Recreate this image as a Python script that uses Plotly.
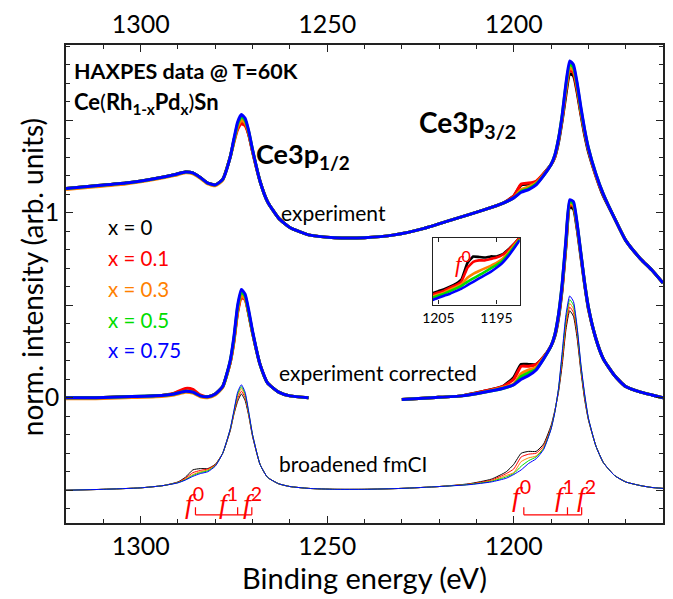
import plotly.graph_objects as go

# ---------------- data ----------------
series_labels = ["x = 0", "x = 0.1", "x = 0.3", "x = 0.5", "x = 0.75"]
colors = ["#000000", "#ff0000", "#ff8000", "#00dd00", "#0000ff"]

# experiment (raw), offset ~ +1
E_exp = [1320, 1312, 1304, 1296, 1291, 1288, 1286, 1284, 1282, 1280, 1278, 1276, 1275, 1274, 1273,
         1272, 1271, 1270, 1268, 1266, 1263, 1260, 1255, 1248, 1240, 1232, 1224, 1216, 1208, 1203,
         1200, 1198, 1196, 1194, 1192, 1190, 1189, 1188, 1187, 1186, 1185, 1184, 1183, 1182, 1181,
         1180, 1178, 1176, 1173, 1170, 1166, 1163, 1160]
exp_x0 = [1.13, 1.145, 1.16, 1.185, 1.205, 1.22, 1.215, 1.19, 1.16, 1.15, 1.18, 1.30, 1.39, 1.46, 1.50,
          1.48, 1.42, 1.33, 1.17, 1.06, 0.97, 0.92, 0.88, 0.865, 0.865, 0.88, 0.915, 0.965, 1.015, 1.05,
          1.09, 1.15, 1.155, 1.165, 1.21, 1.26, 1.30, 1.38, 1.50, 1.64, 1.75, 1.74, 1.65, 1.53, 1.42,
          1.33, 1.20, 1.09, 0.97, 0.85, 0.75, 0.69, 0.62]
exp_x01 = [1.13, 1.145, 1.16, 1.185, 1.205, 1.22, 1.215, 1.19, 1.16, 1.15, 1.18, 1.30, 1.38, 1.45, 1.48,
           1.47, 1.42, 1.33, 1.17, 1.06, 0.97, 0.92, 0.88, 0.865, 0.865, 0.88, 0.915, 0.965, 1.015, 1.05,
           1.09, 1.155, 1.16, 1.17, 1.21, 1.26, 1.30, 1.39, 1.51, 1.66, 1.77, 1.755, 1.66, 1.54, 1.43,
           1.34, 1.20, 1.095, 0.97, 0.85, 0.75, 0.69, 0.62]
exp_x03 = [1.125, 1.14, 1.155, 1.18, 1.20, 1.215, 1.21, 1.185, 1.155, 1.145, 1.175, 1.30, 1.385, 1.465, 1.50,
           1.485, 1.43, 1.335, 1.17, 1.06, 0.97, 0.92, 0.88, 0.865, 0.865, 0.88, 0.915, 0.965, 1.015, 1.05,
           1.08, 1.125, 1.14, 1.16, 1.205, 1.26, 1.305, 1.395, 1.52, 1.67, 1.78, 1.77, 1.68, 1.55, 1.44,
           1.345, 1.205, 1.10, 0.97, 0.85, 0.75, 0.69, 0.62]
exp_x05 = [1.13, 1.145, 1.16, 1.185, 1.205, 1.22, 1.215, 1.19, 1.16, 1.15, 1.18, 1.30, 1.39, 1.48, 1.52,
           1.50, 1.435, 1.34, 1.17, 1.06, 0.97, 0.92, 0.88, 0.865, 0.865, 0.88, 0.915, 0.965, 1.015, 1.05,
           1.08, 1.115, 1.13, 1.155, 1.20, 1.26, 1.31, 1.40, 1.53, 1.69, 1.80, 1.785, 1.69, 1.56, 1.445,
           1.35, 1.21, 1.10, 0.97, 0.85, 0.75, 0.69, 0.62]
exp_x075 = [1.13, 1.145, 1.16, 1.185, 1.205, 1.22, 1.215, 1.19, 1.16, 1.15, 1.18, 1.30, 1.40, 1.49, 1.53,
            1.51, 1.44, 1.34, 1.17, 1.06, 0.97, 0.92, 0.88, 0.865, 0.865, 0.88, 0.915, 0.965, 1.015, 1.05,
            1.08, 1.11, 1.125, 1.15, 1.20, 1.26, 1.31, 1.40, 1.53, 1.70, 1.82, 1.80, 1.70, 1.57, 1.45,
            1.35, 1.21, 1.10, 0.97, 0.85, 0.75, 0.69, 0.62]

# experiment corrected, offset 0 (gap between the two core levels)
E_cor = [1320, 1312, 1304, 1296, 1291, 1288, 1286, 1284, 1282, 1280, 1278, 1276, 1275, 1274, 1273,
         1272, 1271, 1270, 1268, 1266, 1263, 1260, 1255, None,
         1230, 1222, 1214, 1208, 1203, 1200, 1198, 1196, 1194, 1192, 1190, 1189, 1188, 1187, 1186,
         1185, 1184, 1183, 1182, 1181, 1180, 1178, 1176, 1173, 1170, 1166, 1163, 1160]
cor_x0 = [0.0, 0.0, 0.005, 0.01, 0.02, 0.035, 0.03, 0.01, 0.005, 0.02, 0.06, 0.19, 0.31, 0.47, 0.55,
          0.54, 0.45, 0.35, 0.18, 0.08, 0.03, 0.01, 0.0, None,
          -0.01, 0.0, 0.01, 0.035, 0.06, 0.11, 0.18, 0.18, 0.18, 0.22, 0.28, 0.33, 0.43, 0.59, 0.82,
          1.03, 1.02, 0.91, 0.76, 0.61, 0.48, 0.32, 0.21, 0.12, 0.06, 0.03, 0.015, 0.0]
cor_x01 = [0.0, 0.0, 0.005, 0.01, 0.025, 0.05, 0.045, 0.015, 0.005, 0.02, 0.06, 0.19, 0.30, 0.46, 0.54,
           0.53, 0.45, 0.35, 0.18, 0.08, 0.03, 0.01, 0.0, None,
           -0.01, 0.0, 0.01, 0.035, 0.06, 0.10, 0.17, 0.17, 0.18, 0.22, 0.28, 0.335, 0.44, 0.60, 0.83,
           1.04, 1.035, 0.92, 0.77, 0.615, 0.485, 0.32, 0.21, 0.12, 0.06, 0.03, 0.015, 0.0]
cor_x03 = [-0.005, -0.005, 0.0, 0.005, 0.015, 0.03, 0.025, 0.005, 0.0, 0.015, 0.055, 0.19, 0.31, 0.47, 0.55,
           0.535, 0.455, 0.35, 0.18, 0.08, 0.03, 0.01, 0.0, None,
           -0.01, 0.0, 0.01, 0.03, 0.055, 0.075, 0.13, 0.15, 0.165, 0.215, 0.28, 0.34, 0.445, 0.61, 0.84,
           1.05, 1.04, 0.93, 0.775, 0.62, 0.49, 0.32, 0.21, 0.12, 0.06, 0.03, 0.015, 0.0]
cor_x05 = [0.0, 0.0, 0.005, 0.01, 0.02, 0.035, 0.03, 0.01, 0.005, 0.02, 0.06, 0.20, 0.32, 0.49, 0.57,
           0.55, 0.46, 0.355, 0.18, 0.08, 0.03, 0.01, 0.0, None,
           -0.01, 0.0, 0.01, 0.03, 0.05, 0.07, 0.115, 0.135, 0.155, 0.21, 0.28, 0.34, 0.45, 0.62, 0.85,
           1.06, 1.05, 0.935, 0.78, 0.62, 0.49, 0.32, 0.21, 0.12, 0.06, 0.03, 0.015, 0.0]
cor_x075 = [0.0, 0.0, 0.005, 0.01, 0.02, 0.035, 0.03, 0.01, 0.005, 0.02, 0.06, 0.20, 0.33, 0.50, 0.585,
            0.56, 0.47, 0.36, 0.18, 0.08, 0.03, 0.01, 0.0, None,
            -0.01, 0.0, 0.01, 0.03, 0.05, 0.07, 0.10, 0.12, 0.15, 0.21, 0.28, 0.34, 0.45, 0.62, 0.86,
            1.07, 1.06, 0.94, 0.78, 0.62, 0.49, 0.32, 0.21, 0.12, 0.06, 0.03, 0.015, 0.0]

# broadened fmCI calculation, offset -0.5
E_th = [1320, 1310, 1300, 1294, 1290, 1288, 1286, 1284, 1282, 1280, 1278, 1276, 1275, 1274, 1273,
        1272, 1271, 1270, 1268, 1266, 1263, 1260, 1255, 1248, 1240, 1230, 1220, 1212, 1206, 1202,
        1200, 1198, 1196, 1194, 1192, 1190, 1189, 1188, 1187, 1186, 1185, 1184, 1183, 1182, 1181,
        1180, 1178, 1176, 1173, 1170, 1166, 1163, 1160]
th_x0 = [-0.50, -0.495, -0.487, -0.475, -0.455, -0.43, -0.39, -0.383, -0.383, -0.36, -0.30, -0.18, -0.09, -0.02, 0.02,
         -0.015, -0.10, -0.21, -0.36, -0.43, -0.465, -0.48, -0.49, -0.495, -0.495, -0.49, -0.48, -0.465, -0.44, -0.40,
         -0.36, -0.30, -0.29, -0.29, -0.25, -0.15, -0.07, 0.03, 0.18, 0.37, 0.47, 0.44, 0.32, 0.14, -0.01,
         -0.12, -0.26, -0.35, -0.42, -0.455, -0.475, -0.485, -0.49]
th_x01 = [-0.50, -0.495, -0.487, -0.475, -0.457, -0.435, -0.405, -0.393, -0.385, -0.363, -0.30, -0.175, -0.085, -0.005, 0.035,
          0.0, -0.095, -0.205, -0.36, -0.43, -0.465, -0.48, -0.49, -0.495, -0.495, -0.49, -0.48, -0.467, -0.445, -0.41,
          -0.385, -0.32, -0.305, -0.30, -0.26, -0.16, -0.075, 0.04, 0.20, 0.39, 0.49, 0.46, 0.34, 0.155, 0.0,
          -0.115, -0.26, -0.35, -0.42, -0.455, -0.475, -0.485, -0.49]
th_x03 = [-0.50, -0.495, -0.487, -0.475, -0.458, -0.44, -0.415, -0.40, -0.39, -0.366, -0.30, -0.172, -0.08, 0.01, 0.05,
          0.01, -0.09, -0.20, -0.36, -0.43, -0.465, -0.48, -0.49, -0.495, -0.495, -0.49, -0.48, -0.468, -0.45, -0.42,
          -0.405, -0.345, -0.325, -0.315, -0.27, -0.165, -0.077, 0.045, 0.22, 0.41, 0.51, 0.48, 0.355, 0.165, 0.01,
          -0.112, -0.26, -0.35, -0.42, -0.455, -0.475, -0.485, -0.49]
th_x05 = [-0.50, -0.495, -0.487, -0.475, -0.459, -0.443, -0.42, -0.405, -0.395, -0.368, -0.30, -0.171, -0.075, 0.02, 0.06,
          0.02, -0.085, -0.20, -0.36, -0.43, -0.465, -0.48, -0.49, -0.495, -0.495, -0.49, -0.48, -0.469, -0.452, -0.428,
          -0.41, -0.37, -0.34, -0.32, -0.275, -0.168, -0.078, 0.048, 0.235, 0.43, 0.53, 0.50, 0.37, 0.172, 0.015,
          -0.111, -0.26, -0.35, -0.42, -0.455, -0.475, -0.485, -0.49]
th_x075 = [-0.50, -0.495, -0.487, -0.475, -0.46, -0.445, -0.425, -0.41, -0.40, -0.37, -0.30, -0.17, -0.07, 0.03, 0.07,
           0.03, -0.08, -0.20, -0.36, -0.43, -0.465, -0.48, -0.49, -0.495, -0.495, -0.49, -0.48, -0.47, -0.455, -0.435,
           -0.415, -0.39, -0.355, -0.33, -0.28, -0.17, -0.08, 0.05, 0.25, 0.45, 0.55, 0.52, 0.38, 0.18, 0.02,
           -0.11, -0.26, -0.35, -0.42, -0.455, -0.475, -0.485, -0.49]

# inset: zoom of the corrected data around the f0 satellite of Ce3p3/2
E_ins = [1206, 1205, 1204, 1203, 1202, 1201, 1200, 1199, 1198, 1197, 1196, 1195, 1194, 1193, 1192, 1191]
ins_x0 = [0.055, 0.062, 0.069, 0.078, 0.088, 0.104, 0.161, 0.184, 0.182, 0.180, 0.184, 0.184, 0.191, 0.208, 0.227, 0.25]
ins_x01 = [0.050, 0.057, 0.064, 0.074, 0.083, 0.097, 0.144, 0.165, 0.170, 0.170, 0.175, 0.180, 0.189, 0.205, 0.227, 0.25]
ins_x03 = [0.043, 0.050, 0.057, 0.067, 0.076, 0.086, 0.109, 0.123, 0.133, 0.142, 0.151, 0.161, 0.175, 0.196, 0.222, 0.245]
ins_x05 = [0.039, 0.046, 0.053, 0.062, 0.071, 0.081, 0.095, 0.107, 0.118, 0.130, 0.142, 0.154, 0.168, 0.191, 0.217, 0.243]
ins_x075 = [0.031, 0.039, 0.046, 0.053, 0.062, 0.071, 0.083, 0.095, 0.107, 0.118, 0.130, 0.144, 0.161, 0.184, 0.212, 0.241]

# multiplet positions (f0, f1, f2) for each core level, and where their labels sit
f_p12 = [1285.3, 1274.0, 1270.2]
f_p32 = [1197.3, 1185.6, 1181.8]
f_p12_lab = [1285.5, 1276.4, 1270.0]
f_p32_lab = [1197.9, 1186.4, 1180.6]

exp_all = [exp_x0, exp_x01, exp_x03, exp_x05, exp_x075]
cor_all = [cor_x0, cor_x01, cor_x03, cor_x05, cor_x075]
th_all = [th_x0, th_x01, th_x03, th_x05, th_x075]
ins_all = [ins_x0, ins_x01, ins_x03, ins_x05, ins_x075]

FONT = "Lato"

fig = go.Figure()
for vals, c in zip(exp_all, colors):
    fig.add_trace(go.Scatter(x=E_exp, y=vals, mode="lines", showlegend=False, hoverinfo="skip",
                             line=dict(color=c, width=3.0, shape="spline", smoothing=0.5)))
for vals, c in zip(cor_all, colors):
    fig.add_trace(go.Scatter(x=E_cor, y=vals, mode="lines", showlegend=False, hoverinfo="skip",
                             line=dict(color=c, width=3.0, shape="spline", smoothing=0.5)))
for vals, c in zip(th_all, colors):
    fig.add_trace(go.Scatter(x=E_th, y=vals, mode="lines", showlegend=False, hoverinfo="skip",
                             line=dict(color=c, width=1.0, shape="spline", smoothing=0.5)))
for vals, c in zip(ins_all, colors):
    fig.add_trace(go.Scatter(x=E_ins, y=vals, mode="lines", showlegend=False, hoverinfo="skip",
                             xaxis="x2", yaxis="y2",
                             line=dict(color=c, width=2.6, shape="spline", smoothing=0.3)))
# dummy trace to carry the top axis
fig.add_trace(go.Scatter(x=[1320, 1160], y=[None, None], xaxis="x3", yaxis="y",
                         mode="lines", showlegend=False, hoverinfo="skip"))

axcol = "#222222"
minor_x = dict(dtick=10, tick0=1300, ticks="inside", ticklen=4, tickcolor=axcol, showgrid=False)
fig.update_layout(
    width=673, height=599,
    margin=dict(l=66, r=8, t=44, b=76),
    paper_bgcolor="white", plot_bgcolor="white",
    font=dict(family=FONT, color="black"),
    xaxis=dict(range=[1320, 1160], tickvals=[1300, 1250, 1200], ticks="inside", ticklen=7,
               tickcolor=axcol, minor=minor_x, showline=True, linecolor=axcol, linewidth=1.5,
               showgrid=False, zeroline=False, tickfont=dict(size=25),
               title=dict(text="Binding energy (eV)", font=dict(size=29), standoff=7)),
    xaxis3=dict(range=[1320, 1160], overlaying="x", side="top", anchor="y",
                tickvals=[1300, 1250, 1200], ticks="inside", ticklen=7, tickcolor=axcol,
                minor=minor_x, showline=True, linecolor=axcol, linewidth=1.5,
                showgrid=False, zeroline=False, tickfont=dict(size=25)),
    yaxis=dict(range=[-0.677, 1.906], tickvals=[-0.5, 0, 0.5, 1, 1.5], ticktext=["", "0", "", "1", ""],
               ticks="inside", ticklen=7, tickcolor=axcol,
               minor=dict(dtick=0.1, tick0=0, ticks="inside", ticklen=4, tickcolor=axcol, showgrid=False),
               showline=True, linecolor=axcol, linewidth=1.5, mirror="ticks",
               showgrid=False, zeroline=False, tickfont=dict(size=25)),
    xaxis2=dict(domain=[0.614, 0.760], anchor="y2", range=[1206, 1191], tickvals=[1205, 1195],
                ticks="inside", ticklen=4, tickcolor=axcol, showline=True, linecolor=axcol,
                linewidth=1.3, mirror="ticks", showgrid=False, zeroline=False,
                tickfont=dict(size=14)),
    yaxis2=dict(domain=[0.457, 0.597], anchor="x2", range=[0.015, 0.25], showticklabels=False,
                ticks="", showline=True, linecolor=axcol, linewidth=1.3, mirror=True,
                showgrid=False, zeroline=False),
)

ann = []
def txt(x, y, s, size, color="black", xanchor="left", xref="x", yref="y", family=FONT, angle=0):
    ann.append(dict(x=x, y=y, text=s, showarrow=False, xref=xref, yref=yref, xanchor=xanchor,
                    yanchor="middle", textangle=angle,
                    font=dict(size=size, color=color, family=family)))

# y-axis title
txt(-0.058, 0.515, "norm. intensity (arb. units)", 28, xanchor="center", xref="paper", yref="paper", angle=-90)

txt(1318.4, 1.765, "<b>HAXPES data @ T=60K</b>", 21.5)
txt(1318.4, 1.59, "<b>Ce</b>(<b>Rh<sub>1-x</sub>Pd<sub>x</sub></b>)<b>Sn</b>", 22)
txt(1269.5, 1.31, "<b>Ce3p<sub>1/2</sub></b>", 27)
txt(1226.0, 1.48, "<b>Ce3p<sub>3/2</sub></b>", 28)
txt(1262.8, 1.0, "experiment", 21)
txt(1263.4, 0.137, "experiment corrected", 21)
txt(1263.4, -0.353, "broadened fmCI", 21)
leg_y = [0.92, 0.755, 0.588, 0.42, 0.256]
for lab, c, yy in zip(series_labels, colors, leg_y):
    txt(1309.2, yy, lab, 20.5, color=c)

# multiplet labels and brackets
fl = '<i>f</i><span style="font-family:Lato"><sup>%d</sup></span>'
red = "#ff0000"
for i, e in enumerate(f_p12_lab):
    txt(e, -0.553, fl % i, 28, color=red, xanchor="center", family="Liberation Serif")
for i, e in enumerate(f_p32_lab):
    txt(e, -0.515, fl % i, 28, color=red, xanchor="center", family="Liberation Serif")
txt(1200.8, 0.167, fl % 0, 23, color=red, xanchor="center", xref="x2", yref="y2", family="Liberation Serif")
fig.update_layout(annotations=ann)

shapes = []
yb, yt = -0.633, -0.592
for grp in (f_p12, f_p32):
    shapes.append(dict(type="line", x0=grp[0], x1=grp[-1], y0=yb, y1=yb, xref="x", yref="y",
                       line=dict(color=red, width=1.2)))
    for e in grp:
        shapes.append(dict(type="line", x0=e, x1=e, y0=yb, y1=yt, xref="x", yref="y",
                           line=dict(color=red, width=1.2)))
fig.update_layout(shapes=shapes)

fig.write_html("out.html")
